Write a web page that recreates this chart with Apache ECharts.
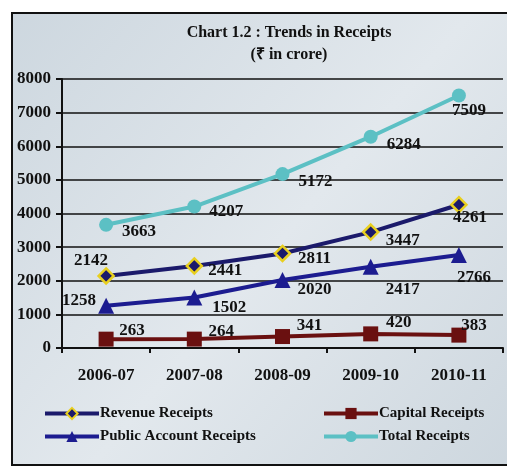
<!DOCTYPE html>
<html><head><meta charset="utf-8">
<script src="https://cdn.jsdelivr.net/npm/echarts@6/dist/echarts.min.js"></script>
<style>html,body{margin:0;padding:0;background:#fff}#c{width:507px;height:468px}</style>
</head><body><div id="c"></div>
<script>
const categories = ['2006-07','2007-08','2008-09','2009-10','2010-11'];
const revenueReceipts = [2142, 2441, 2811, 3447, 4261];
const capitalReceipts = [263, 264, 341, 420, 383];
const publicAccountReceipts = [1258, 1502, 2020, 2417, 2766];
const totalReceipts = [3663, 4207, 5172, 6284, 7509];
const yTicks = [0,1000,2000,3000,4000,5000,6000,7000,8000];

const FONT = '"Liberation Serif","Times New Roman",serif';
function withOffsets(vals, offs){
  return vals.map((v,i)=>({value:v,label:{offset:offs[i]}}));
}
const chart = echarts.init(document.getElementById('c'));
const lbl = {show:true, position:'inside', color:'#111', fontFamily:FONT, fontWeight:'bold', fontSize:17};
const legendText = {fontFamily:FONT,fontWeight:'bold',fontSize:15,color:'#111',padding:[0,0,0,-4]};
chart.setOption({
  backgroundColor:'#fff',
  animation:false,
  graphic:[{type:'rect',z:-10,shape:{x:12,y:13,width:540,height:452},
    style:{fill:new echarts.graphic.LinearGradient(0,0,1,1,[{offset:0,color:'#cdd7df'},{offset:0.5,color:'#e2e8ed'},{offset:1,color:'#cbd5dd'}]),stroke:'#111',lineWidth:2}}],
  title:{text:'Chart 1.2 : Trends in Receipts\n(₹ in crore)',left:284,top:17,textAlign:'center',
    textStyle:{fontFamily:FONT,fontWeight:'bold',fontSize:16,lineHeight:22,color:'#111'}},
  grid:{left:62,right:4,top:79,bottom:120,containLabel:false},
  xAxis:{type:'category',data:categories,boundaryGap:true,
    axisLine:{lineStyle:{color:'#111',width:2}},
    axisTick:{show:true,length:5,inside:false,lineStyle:{color:'#111',width:2}},
    axisLabel:{margin:19,color:'#111',fontFamily:FONT,fontWeight:'bold',fontSize:17}},
  yAxis:{type:'value',min:0,max:8000,interval:1000,
    axisLine:{show:true,lineStyle:{color:'#111',width:2}},
    axisTick:{show:true,length:6,lineStyle:{color:'#111',width:2}},
    splitLine:{lineStyle:{color:'#111',width:1.6}},
    axisLabel:{margin:11,color:'#111',fontFamily:FONT,fontWeight:'bold',fontSize:17,
      formatter:v=>yTicks.includes(v)?String(v):''}},
  legend:[
    {orient:'vertical',left:43,top:406,padding:0,itemWidth:54,itemHeight:14,itemGap:8,
     lineStyle:{width:4},
     data:['Revenue Receipts','Public Account Receipts'],textStyle:legendText},
    {orient:'vertical',left:322,top:406,padding:0,itemWidth:54,itemHeight:14,itemGap:8,
     lineStyle:{width:4},
     data:['Capital Receipts','Total Receipts'],textStyle:legendText}],
  series:[
    {name:'Total Receipts',type:'line',data:withOffsets(totalReceipts,[[33,7],[32,5],[33,8],[33,8],[10,15]]),
     symbol:'circle',symbolSize:14,lineStyle:{color:'#5cc0c4',width:4},itemStyle:{color:'#5cc0c4'},label:lbl,z:3},
    {name:'Revenue Receipts',type:'line',data:withOffsets(revenueReceipts,[[-15,-15],[31,5],[32,5],[32,9],[11,13]]),
     symbol:'diamond',symbolSize:15,lineStyle:{color:'#1b1a6b',width:4},
     itemStyle:{color:'#1b1a6b',borderColor:'#e8cf1f',borderWidth:2.5},label:lbl,z:4},
    {name:'Public Account Receipts',type:'line',data:withOffsets(publicAccountReceipts,[[-27,-5],[35,10],[32,10],[32,23],[15,23]]),
     symbol:'triangle',symbolSize:16,lineStyle:{color:'#1c1c90',width:4},itemStyle:{color:'#1c1c90'},label:lbl,z:4},
    {name:'Capital Receipts',type:'line',data:withOffsets(capitalReceipts,[[26,-9],[27,-8],[27,-11],[28,-11],[15,-10]]),
     symbol:'rect',symbolSize:15,lineStyle:{color:'#6a1010',width:4},itemStyle:{color:'#6a1010'},label:lbl,z:4}
  ]
});
</script></body></html>
